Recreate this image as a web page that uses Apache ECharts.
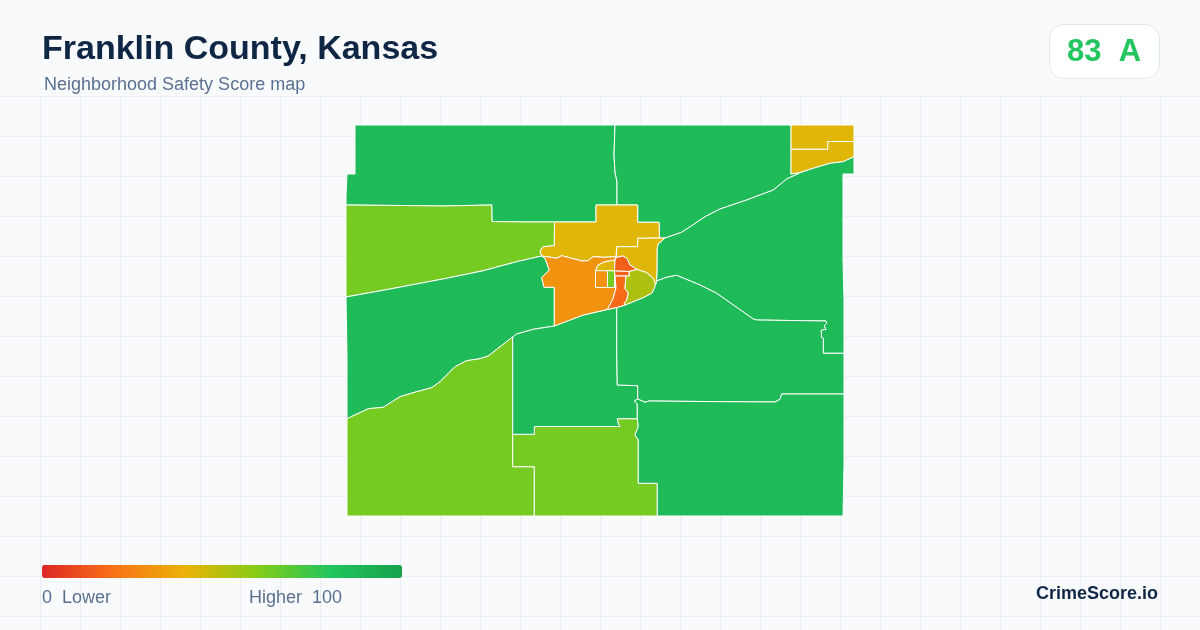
<!DOCTYPE html>
<html lang="en">

<head>
  <meta charset="UTF-8">
  <title>Franklin County, Kansas</title>
  <script src="https://cdn.jsdelivr.net/npm/echarts@6/dist/echarts.min.js"></script>
  <style>
    html, body { margin: 0; padding: 0; background: #f8fafc; }
    #main { width: 1200px; height: 630px; }
  </style>
</head>

<body>
  <div id="main"></div>
  <script>
    // tract outlines (map units = picture px)
    var northWest = [[355,125],[615,125],[614,155],[615,172],[617,182],[617,205],[596,205],[596,222],[554.5,222],[526,222],[492,221.5],[491.7,205],[442,206],[403,205.5],[346,205],[346,196],[347,174],[355,174]];
    var northEast = [[615,125],[791,125],[791,149],[791,174],[802,172],[786.7,179],[773.3,190],[746.7,200],[720,209],[705,216.7],[691.7,225.7],[681.7,232.3],[665,238],[659.5,238],[659,222.3],[637.7,222.3],[637.7,205],[617,205],[617,182],[615,172],[614,155]];
    var cornerTop = [[791,125],[854,125],[854,141.5],[827.7,141.5],[827.7,149.3],[791,149.3]];
    var cornerBottom = [[791,149.3],[827.7,149.3],[827.7,141.5],[854,141.5],[854,156.7],[843.3,161.7],[830,163.3],[813.3,168.3],[802,172],[791,174]];
    var east = [[854,156.7],[854,174],[843,174],[843,260],[844,300],[844,353.3],[823.3,353.3],[823.3,338.3],[821.3,337.3],[821.3,330],[826,329.3],[824,326],[826.7,323.3],[826,321],[756.7,320],[753.3,319],[733.3,305],[716.7,293.3],[700,285],[676.7,275.3],[666.7,277.3],[656.5,281],[657,270],[657,250],[658,244],[665,238],[681.7,232.3],[691.7,225.7],[705,216.7],[720,209],[746.7,200],[773.3,190],[786.7,179],[802,172],[813.3,168.3],[830,163.3],[843.3,161.7]];
    var westUpper = [[346,205],[403,205.5],[442,206],[491.7,205],[492,221.5],[526,222],[554.5,222],[554.3,245.7],[543,246.7],[540,251],[541.7,256],[516.7,261.7],[483.3,270.7],[446.7,278.3],[390,289],[346,297]];
    var westBand = [[346,297],[390,289],[446.7,278.3],[483.3,270.7],[516.7,261.7],[541.7,256],[545,258.3],[549.3,270],[541.7,277.7],[544,287.3],[554.3,287.3],[554.3,326],[533.3,329.3],[516.7,334],[512.7,337],[500,346.7],[488.3,356],[480,358.7],[466.7,360.7],[455,366.7],[440,381.7],[431.7,387.7],[416.7,391.7],[400,396.7],[383.3,407.3],[368.3,408.7],[347,418.7],[347,356],[346,355]];
    var southWest = [[347,418.7],[368.3,408.7],[383.3,407.3],[400,396.7],[416.7,391.7],[431.7,387.7],[440,381.7],[455,366.7],[466.7,360.7],[480,358.7],[488.3,356],[500,346.7],[512.7,337],[512.7,434.3],[512.7,466.7],[534.3,466.7],[534.3,516],[347,516]];
    var southMiddle = [[512.7,434.3],[534.3,434.3],[534.3,426.5],[620,426.5],[618.3,424],[617.3,418.7],[637.3,418.7],[638.3,426.7],[635,435],[638.3,440],[638.3,483.3],[657.3,483.3],[657.3,516],[534.3,516],[534.3,466.7],[512.7,466.7]];
    var centerSouth = [[512.7,337],[516.7,334],[533.3,329.3],[554.3,326],[570,320],[583.3,315],[607.3,309.5],[616.7,307.5],[616.7,353],[617.3,385],[637.7,385.7],[637.7,399],[634.3,401],[637.3,404],[637.3,418.7],[617.3,418.7],[618.3,424],[620,426.5],[534.3,426.5],[534.3,434.3],[512.7,434.3]];
    var centerEast = [[616.7,307.5],[625,305],[643.5,297.5],[652,293],[655.5,285],[656.5,281],[666.7,277.3],[676.7,275.3],[700,285],[716.7,293.3],[733.3,305],[753.3,319],[756.7,320],[826,321],[826.7,323.3],[824,326],[826,329.3],[821.3,330],[821.3,337.3],[823.3,338.3],[823.3,353.3],[844,353.3],[844,394],[781.7,394],[780,399.3],[775,402],[723.3,401.7],[649.3,401],[645,402.3],[637.7,399],[637.7,385.7],[617.3,385],[616.7,353]];
    var southEast = [[637.7,399],[645,402.3],[649.3,401],[723.3,401.7],[775,402],[780,399.3],[781.7,394],[844,394],[844,465],[843,466],[843,516],[657.3,516],[657.3,483.3],[638.3,483.3],[638.3,440],[635,435],[638.3,426.7],[637.3,418.7],[637.3,404],[634.3,401]];
    var cityNorth = [[554.5,222],[596,222],[596,205],[637.7,205],[637.7,222.3],[659,222.3],[659.5,238],[637.7,238.3],[637.7,246.7],[616.7,246.7],[616,256.7],[605,257.3],[593,256.7],[588,260.7],[581.7,261],[571.7,258.3],[561.7,255.7],[556.7,258.3],[546.7,256.7],[541.7,256],[540,251],[543,246.7],[554.3,245.7]];
    var cityEast = [[637.7,238.3],[665,238],[658,244],[657,250],[657,270],[656.5,281],[655.5,285],[653.5,278.5],[646.5,272.5],[637,269.5],[630,265],[627,258.5],[623,256],[616.5,257.5],[616.7,246.7],[637.7,246.7]];
    var cityWest = [[541.7,256],[546.7,256.7],[556.7,258.3],[561.7,255.7],[571.7,258.3],[581.7,261],[588,260.7],[593,256.7],[605,257.3],[616,256.7],[616.5,257.5],[615,260],[605,261.7],[598,265],[595.5,270.7],[595.5,287.5],[607.5,287.5],[614.5,287.5],[616,288],[613,299],[607.3,309.5],[583.3,315],[570,320],[554.3,326],[554.3,287.3],[544,287.3],[541.7,277.7],[549.3,270],[545,258.3]];
    var cityWedge = [[595.5,270.7],[598,265],[605,261.7],[615,260],[614.5,271]];
    var boxLeft = [[595.5,270.7],[607.5,270.7],[607.5,287.5],[595.5,287.5]];
    var boxRight = [[607.5,270.7],[614.5,271],[614.5,287.5],[607.5,287.5]];
    var cap = [[615,260],[616.5,257.5],[623,256],[627,258.5],[630,265],[637,269.5],[629,271.5],[614.5,271]];
    var band = [[614.5,271],[629,271.5],[629.5,276],[615,276]];
    var stem = [[615,276],[626,276],[625,288.3],[628.3,293],[626.7,300],[624.3,303.5],[625,305],[616.7,307.5],[607.3,309.5],[613,299],[616,288]];
    var lobe = [[629,271.5],[637,269.5],[646.5,272.5],[653.5,278.5],[655.5,285],[652,293],[643.5,297.5],[625,305],[624.3,303.5],[626.7,300],[628.3,293],[625,288.3],[626,276],[629.5,276]];

    var tractNames = ['northWest', 'northEast', 'cornerTop', 'cornerBottom', 'east', 'westUpper', 'westBand', 'southWest', 'southMiddle', 'centerSouth', 'centerEast', 'southEast', 'cityNorth', 'cityEast', 'cityWest', 'cityWedge', 'boxLeft', 'boxRight', 'cap', 'band', 'stem', 'lobe'];
    var tractShapes = [northWest, northEast, cornerTop, cornerBottom, east, westUpper, westBand, southWest, southMiddle, centerSouth, centerEast, southEast, cityNorth, cityEast, cityWest, cityWedge, boxLeft, boxRight, cap, band, stem, lobe];
    var tractScores = [86, 86, 42, 42, 86, 63, 86, 63, 63, 86, 86, 86, 42, 42, 30, 42, 30, 63, 15, 15, 18, 52];

    var scaleColors = ['#dc2626', '#f97316', '#eab308', '#84cc16', '#22c55e', '#16a34a'];

    var myChart = echarts.init(document.getElementById('main'));

    var features = tractNames.map(function (name, i) {
      return {
        type: 'Feature',
        properties: { name: name },
        geometry: { type: 'Polygon', coordinates: [tractShapes[i].concat([tractShapes[i][0]])] }
      };
    });
    echarts.registerMap('franklin', { type: 'FeatureCollection', features: features });

    var option = {
      backgroundColor: '#f8fafc',
      animation: false,
      textStyle: { fontFamily: '"Liberation Sans", Arial, sans-serif' },
      title: [
        {
          text: 'Franklin County, Kansas', left: 42, top: 33, padding: 0,
          textStyle: { fontSize: 34, fontWeight: 'bold', color: '#0f2744', fontFamily: '"Liberation Sans"' }
        },
        {
          text: 'Neighborhood Safety Score map', left: 44, top: 76, padding: 0,
          textStyle: { fontSize: 18, fontWeight: 'normal', color: '#5a7090', fontFamily: '"Liberation Sans"' }
        }
      ],
      // background grid comes from two hidden axes
      grid: { left: 0, right: 0, top: 96, bottom: 0 },
      xAxis: {
        type: 'value', min: 0, max: 1200, interval: 40,
        axisLine: { show: false }, axisTick: { show: false }, axisLabel: { show: false },
        splitLine: { show: true, showMinLine: false, lineStyle: { color: '#e8eef3', width: 1 } }
      },
      yAxis: {
        type: 'value', inverse: true, min: 0, max: 534, interval: 40,
        axisLine: { show: false }, axisTick: { show: false }, axisLabel: { show: false },
        splitLine: { show: true, lineStyle: { color: '#e8eef3', width: 1 } }
      },
      visualMap: {
        type: 'continuous', seriesIndex: 0, min: 0, max: 100,
        orient: 'horizontal', left: 42, top: 565, padding: 0,
        itemWidth: 13, itemHeight: 360, borderRadius: 0,
        text: null, calculable: false, hoverLink: false,
        inRange: { color: scaleColors }
      },
      series: [
        {
          type: 'map', map: 'franklin', silent: true,
          projection: {
            project: function (p) { return p; },
            unproject: function (p) { return p; }
          },
          layoutCenter: [600, 320.5], layoutSize: 508,
          label: { show: false },
          itemStyle: { borderColor: '#ffffff', borderWidth: 1 },
          data: tractNames.map(function (name, i) { return { name: name, value: tractScores[i] }; })
        }
      ],
      graphic: [
        {
          type: 'rect', left: 1049, top: 24, z: 10,
          shape: { width: 110, height: 54, r: 14 },
          style: { fill: '#ffffff', stroke: '#e2e8f0', lineWidth: 1 }
        },
        {
          type: 'text', left: 1067, top: 37, z: 11,
          style: { text: '83  A', fill: '#22c55e', font: 'bold 31px "Liberation Sans"' }
        },
        {
          type: 'text', left: 42, top: 589, z: 11,
          style: { text: '0  Lower', fill: '#5a7090', font: '18px "Liberation Sans"' }
        },
        {
          type: 'text', left: 249, top: 589, z: 11,
          style: { text: 'Higher  100', fill: '#5a7090', font: '18px "Liberation Sans"' }
        },
        {
          type: 'text', right: 42, top: 585, z: 11,
          style: { text: 'CrimeScore.io', fill: '#0f2744', font: 'bold 18px "Liberation Sans"' }
        }
      ]
    };
    myChart.setOption(option);
  </script>
</body>

</html>
